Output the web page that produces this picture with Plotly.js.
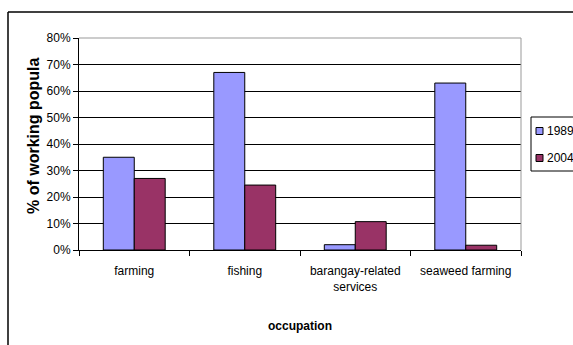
<!DOCTYPE html>
<html>
<head>
<meta charset="utf-8">
<script src="https://cdn.plot.ly/plotly-3.0.1.min.js"></script>
<style>html,body{margin:0;padding:0;background:#fff;}#chart{width:573px;height:345px;}</style>
</head>
<body>
<div id="chart"></div>
<script>
var categories = ["farming", "fishing", "barangay-related<br>services", "seaweed farming"];
var values1989 = [0.35, 0.67, 0.02, 0.63];
var values2004 = [0.27, 0.245, 0.107, 0.018];
var seriesNames = ["1989", "2004"];
var seriesColors = ["#9999FF", "#993366"];
var yTickVals = [0, 0.1, 0.2, 0.3, 0.4, 0.5, 0.6, 0.7, 0.8];

var font = {family: "Liberation Sans, Arial, sans-serif", size: 12, color: "#000"};
var traces = [
  {type: "bar", x: categories, y: values1989, name: seriesNames[0],
   marker: {color: seriesColors[0], line: {color: "#000", width: 1}}},
  {type: "bar", x: categories, y: values2004, name: seriesNames[1],
   marker: {color: seriesColors[1], line: {color: "#000", width: 1}}}
];
var L = 79, R = 521, T = 38, B = 250;
function px(x){return (x - L) / (R - L);}
function py(y){return (B - y) / (B - T);}

var shapes = [
  {type: "line", xref: "paper", yref: "paper", x0: 1, x1: 1, y0: 0, y1: 1, line: {color: "#999", width: 1}},
  {type: "line", xref: "paper", yref: "paper", x0: 0, x1: 1, y0: 1, y1: 1, line: {color: "#999", width: 1}},
  {type: "line", xref: "paper", yref: "paper", x0: px(8), x1: px(573), y0: py(12), y1: py(12), line: {color: "#000", width: 1.5}},
  {type: "line", xref: "paper", yref: "paper", x0: px(8), x1: px(8), y0: py(12), y1: py(345), line: {color: "#000", width: 1.5}},
  // legend box
  {type: "rect", xref: "paper", yref: "paper", x0: px(531), x1: px(580), y0: py(171), y1: py(117), line: {color: "#000", width: 1}, fillcolor: "#fff"}
];
var annotations = [
  {text: "<b>% of working popula</b>", xref: "paper", yref: "paper", x: px(33), y: py(136),
   xanchor: "center", yanchor: "middle", textangle: -90, showarrow: false,
   font: {family: font.family, size: 16, color: "#000"}}
];
var legendRows = [131, 158];
seriesNames.forEach(function(name, i){
  var cy = legendRows[i];
  shapes.push({type: "rect", xref: "paper", yref: "paper", x0: px(536), x1: px(543), y0: py(cy + 3.5), y1: py(cy - 3.5),
               line: {color: "#000", width: 1}, fillcolor: seriesColors[i]});
  annotations.push({text: name, xref: "paper", yref: "paper", x: px(545), y: py(cy), xanchor: "left", yanchor: "middle",
                    showarrow: false, font: {family: font.family, size: 12, color: "#000"}});
});

var layout = {
  width: 573, height: 345,
  margin: {l: L, r: 573 - R, t: T, b: 345 - B, pad: 0, autoexpand: false},
  paper_bgcolor: "#fff", plot_bgcolor: "#fff",
  font: font,
  barmode: "group", bargap: 0.44, bargroupgap: 0,
  showlegend: false,
  xaxis: {type: "category", showgrid: false, showline: true, linecolor: "#000", linewidth: 1,
          ticks: "outside", tickson: "boundaries", ticklen: 5, tickcolor: "#000",
          tickangle: 0, automargin: false, ticklabelstandoff: 10,
          tickfont: font, fixedrange: true,
          title: {text: "<b>occupation</b>", font: {family: font.family, size: 12, color: "#000"}, standoff: 28}},
  yaxis: {range: [0, 0.8], tickvals: yTickVals, tickformat: ".0%", showgrid: true, automargin: false,
          gridcolor: "#000", gridwidth: 1, showline: true, linecolor: "#000", linewidth: 1,
          ticks: "outside", ticklen: 5, tickcolor: "#000", tickfont: font, zeroline: false},
  annotations: annotations,
  shapes: shapes
};
Plotly.newPlot("chart", traces, layout, {displayModeBar: false, staticPlot: true});
</script>
</body>
</html>
